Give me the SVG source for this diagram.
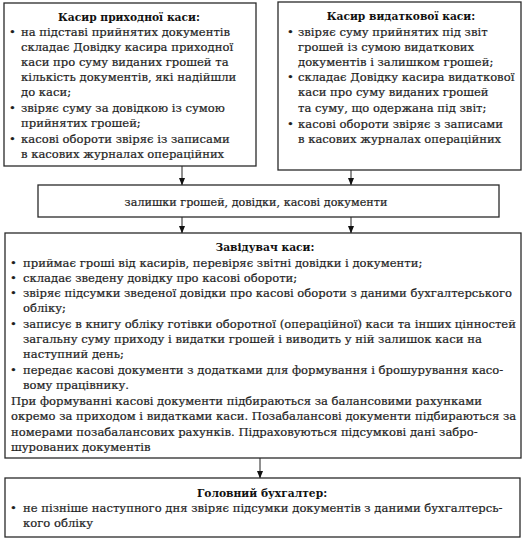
<svg xmlns="http://www.w3.org/2000/svg" width="523" height="538" viewBox="0 0 523 538">
<defs>
<style>
.box{fill:#fff;stroke:#2a2a2a;stroke-width:1.3}
.t{font-family:"DejaVu Serif","Liberation Serif",serif;font-size:11.6px;fill:#1e1e1e;stroke:#1e1e1e;stroke-width:0.2}
.m{font-size:11.2px}
.h{font-family:"DejaVu Serif","Liberation Serif",serif;font-size:10.7px;font-weight:bold;fill:#111}
.c{stroke:#222;stroke-width:1;fill:none}
</style>
<marker id="ah" viewBox="0 0 8 8" refX="7.5" refY="4" markerWidth="8" markerHeight="8" markerUnits="userSpaceOnUse" orient="auto">
<path d="M0,0.8 L8,4 L0,7.2 Z" fill="#111"/>
</marker>
</defs>
<rect width="523" height="538" fill="#fff"/>
<g id="connectors">
<line class="c" x1="182" y1="166" x2="182" y2="185" marker-end="url(#ah)"/>
<line class="c" x1="351" y1="170" x2="351" y2="185" marker-end="url(#ah)"/>
<line class="c" x1="182" y1="217" x2="182" y2="233" marker-end="url(#ah)"/>
<line class="c" x1="351" y1="217" x2="351" y2="233" marker-end="url(#ah)"/>
<line class="c" x1="260" y1="458" x2="260" y2="478" marker-end="url(#ah)"/>
</g>
<g id="kasyr-prykhodnoi">
<rect class="box" x="4" y="3" width="252" height="163"/>
<text class="h" x="129" y="20.5" text-anchor="middle">Касир приходної каси:</text>
<text class="t" x="9" y="35.5">•</text>
<text class="t" x="21" y="35.5">на підставі прийнятих документів</text>
<text class="t" x="21" y="50.5">складає Довідку касира приходної</text>
<text class="t" x="21" y="65.5">каси про суму виданих грошей та</text>
<text class="t" x="21" y="80.5">кількість документів, які надійшли</text>
<text class="t" x="21" y="96">до каси;</text>
<text class="t" x="9" y="111.5">•</text>
<text class="t" x="21" y="111.5">звіряє суму за довідкою із сумою</text>
<text class="t" x="21" y="126.5">прийнятих грошей;</text>
<text class="t" x="9" y="142.5">•</text>
<text class="t" x="21" y="142.5">касові обороти звіряє із записами</text>
<text class="t" x="21" y="157.5">в касових журналах операційних</text>
</g>
<g id="kasyr-vydatkovoi">
<rect class="box" x="278" y="2" width="243" height="168"/>
<text class="h" x="401" y="19.5" text-anchor="middle">Касир видаткової каси:</text>
<text class="t" x="287" y="35.5">•</text>
<text class="t" x="298" y="35.5">звіряє суму прийнятих під звіт</text>
<text class="t" x="298" y="50.5">грошей із сумою видаткових</text>
<text class="t" x="298" y="65.5">документів і залишком грошей;</text>
<text class="t" x="287" y="80.5">•</text>
<text class="t" x="298" y="80.5">складає Довідку касира видаткової</text>
<text class="t" x="298" y="96">каси про суму виданих грошей</text>
<text class="t" x="298" y="111.5">та суму, що одержана під звіт;</text>
<text class="t" x="287" y="127.5">•</text>
<text class="t" x="298" y="127.5">касові обороти звіряє з записами</text>
<text class="t" x="298" y="143">в касових журналах операційних</text>
</g>
<g id="zalyshky">
<rect class="box" x="38" y="185" width="461" height="32"/>
<text class="t m" x="256" y="205.5" text-anchor="middle">залишки грошей, довідки, касові документи</text>
</g>
<g id="zaviduvach">
<rect class="box" x="5" y="233" width="516" height="225"/>
<text class="h" x="265" y="251" text-anchor="middle">Завідувач каси:</text>
<text class="t" x="10" y="266.5">•</text>
<text class="t" x="23" y="266.5">приймає гроші від касирів, перевіряє звітні довідки і документи;</text>
<text class="t" x="10" y="281.5">•</text>
<text class="t" x="23" y="281.5">складає зведену довідку про касові обороти;</text>
<text class="t" x="10" y="296.5">•</text>
<text class="t" x="23" y="296.5">звіряє підсумки зведеної довідки про касові обороти з даними бухгалтерського</text>
<text class="t" x="23" y="311.5">обліку;</text>
<text class="t" x="10" y="327.5">•</text>
<text class="t" x="23" y="327.5">записує в книгу обліку готівки оборотної (операційної) каси та інших цінностей</text>
<text class="t" x="23" y="342.5">загальну суму приходу і видатки грошей і виводить у ній залишок каси на</text>
<text class="t" x="23" y="357.5">наступний день;</text>
<text class="t" x="10" y="373.5">•</text>
<text class="t" x="23" y="373.5">передає касові документи з додатками для формування і брошурування касо-</text>
<text class="t" x="23" y="388.5">вому працівнику.</text>
<text class="t" x="11" y="404.5">При формуванні касові документи підбираються за балансовими рахунками</text>
<text class="t" x="11" y="420">окремо за приходом і видатками каси. Позабалансові документи підбираються за</text>
<text class="t" x="11" y="435.5">номерами позабалансових рахунків. Підраховуються підсумкові дані забро-</text>
<text class="t" x="11" y="451">шурованих документів</text>
</g>
<g id="holovnyi-bukhhalter">
<rect class="box" x="5" y="478" width="515" height="59"/>
<text class="h" x="262" y="497" text-anchor="middle">Головний бухгалтер:</text>
<text class="t" x="10" y="512">•</text>
<text class="t" x="23" y="512">не пізніше наступного дня звіряє підсумки документів з даними бухгалтерсь-</text>
<text class="t" x="23" y="527">кого обліку</text>
</g>
</svg>
